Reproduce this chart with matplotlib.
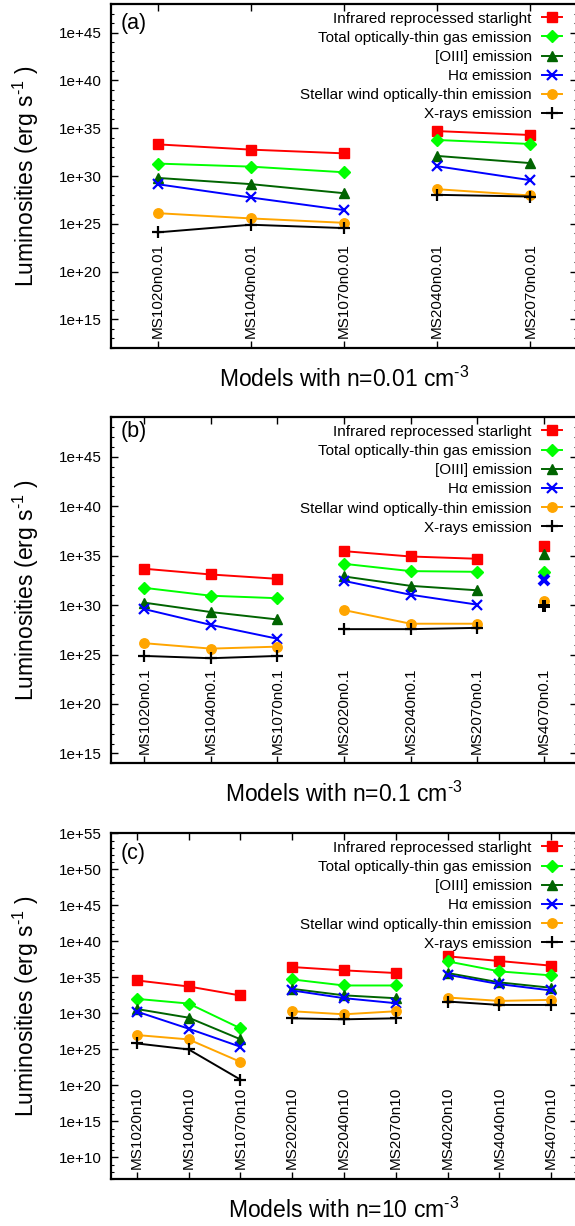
import numpy as np
import matplotlib
matplotlib.use("Agg")
import matplotlib.pyplot as plt
from matplotlib.ticker import FixedLocator, FuncFormatter, NullFormatter

plt.rcParams['font.family'] = ['Liberation Sans', 'DejaVu Sans']
plt.rcParams['mathtext.fontset'] = 'custom'
plt.rcParams['mathtext.rm'] = 'Liberation Sans'
plt.rcParams['mathtext.it'] = 'Liberation Sans:italic'
plt.rcParams['mathtext.default'] = 'regular'

# ---------------- data (log10 of luminosity in erg/s) ----------------
series_labels = ["Infrared reprocessed starlight",
                 "Total optically-thin gas emission",
                 "[OIII] emission",
                 "H\u03b1 emission",
                 "Stellar wind optically-thin emission",
                 "X-rays emission"]

models_a = ["MS1020n0.01", "MS1040n0.01", "MS1070n0.01", "MS2040n0.01", "MS2070n0.01"]
a_ir = [33.31, 32.76, 32.37, 34.70, 34.29]
a_gas = [31.30, 30.98, 30.39, 33.77, 33.35]
a_oiii = [29.80, 29.15, 28.20, 32.10, 31.35]
a_ha = [29.14, 27.75, 26.43, 31.02, 29.56]
a_wind = [26.11, 25.56, 25.10, 28.62, 27.96]
a_xray = [24.10, 24.90, 24.55, 28.03, 27.85]
groups_a = [[0, 1, 2], [3, 4]]

models_b = ["MS1020n0.1", "MS1040n0.1", "MS1070n0.1", "MS2020n0.1",
            "MS2040n0.1", "MS2070n0.1", "MS4070n0.1"]
b_ir = [33.68, 33.10, 32.66, 35.46, 34.92, 34.69, 36.03]
b_gas = [31.75, 30.95, 30.70, 34.18, 33.44, 33.37, 33.35]
b_oiii = [30.25, 29.30, 28.55, 32.90, 31.95, 31.50, 35.20]
b_ha = [29.60, 28.00, 26.60, 32.45, 31.05, 30.05, 32.50]
b_wind = [26.15, 25.60, 25.80, 29.50, 28.12, 28.12, 30.40]
b_xray = [24.86, 24.63, 24.86, 27.57, 27.57, 27.70, 29.95]
groups_b = [[0, 1, 2], [3, 4, 5], [6]]

models_c = ["MS1020n10", "MS1040n10", "MS1070n10", "MS2020n10", "MS2040n10",
            "MS2070n10", "MS4020n10", "MS4040n10", "MS4070n10"]
c_ir = [34.57, 33.73, 32.48, 36.43, 35.97, 35.60, 37.92, 37.27, 36.62]
c_gas = [32.01, 31.36, 27.92, 34.71, 33.87, 33.87, 37.22, 35.83, 35.27]
c_oiii = [30.60, 29.40, 26.40, 33.40, 32.50, 32.10, 35.60, 34.30, 33.55]
c_ha = [30.24, 27.87, 25.36, 33.18, 32.11, 31.41, 35.36, 34.06, 33.18]
c_wind = [26.99, 26.38, 23.26, 30.29, 29.87, 30.29, 32.20, 31.73, 31.87]
c_xray = [25.82, 24.99, 20.80, 29.31, 29.17, 29.31, 31.64, 31.17, 31.17]
groups_c = [[0, 1, 2], [3, 4, 5], [6, 7, 8]]

xlabels = [r"Models with n=0.01 cm$^{\text{-3}}$", r"Models with n=0.1 cm$^{\text{-3}}$",
           r"Models with n=10 cm$^{\text{-3}}$"]
ylabel = r"Luminosities (erg s$^{\text{-1}}$ )"
panel_tags = ["(a)", "(b)", "(c)"]

# ---------------- styles ----------------
colors = ['#ff0000', '#00ff00', '#006400', '#0000ff', '#ffa500', '#000000']
markers = ['s', 'D', '^', 'x', 'o', '+']
msizes = [7.2, 5.8, 7.4, 7.5, 6.8, 9.0]
mews = [1.0, 1.0, 1.0, 1.6, 1.0, 1.6]

W, H = 575, 1226
fig = plt.figure(figsize=(W / 100, H / 100), dpi=100)


def rect(top, bottom):
    return [111 / W, 1 - bottom / H, 466 / W, (bottom - top) / H]


panels = [
    dict(models=models_a, data=[a_ir, a_gas, a_oiii, a_ha, a_wind, a_xray],
         groups=groups_a, ylim=(12, 48), majors=range(15, 46, 5),
         rect=rect(4, 348), tag_y=13.3),
    dict(models=models_b, data=[b_ir, b_gas, b_oiii, b_ha, b_wind, b_xray],
         groups=groups_b, ylim=(14, 49), majors=range(15, 46, 5),
         rect=rect(417.3, 763.3), tag_y=420.7),
    dict(models=models_c, data=[c_ir, c_gas, c_oiii, c_ha, c_wind, c_xray],
         groups=groups_c, ylim=(7, 55), majors=range(10, 56, 5),
         rect=rect(833.3, 1179), tag_y=843.3),
]

for pi, p in enumerate(panels):
    ax = fig.add_axes(p['rect'])
    n = len(p['models'])
    xs = np.arange(n)
    for si, vals in enumerate(p['data']):
        yv = 10.0 ** np.asarray(vals)
        for gi, g in enumerate(p['groups']):
            lone = len(g) == 1
            ax.plot(xs[g], yv[g], color=colors[si], marker=markers[si],
                    ms=msizes[si], mew=(mews[si] * 1.8 if lone and markers[si] in 'x+' else mews[si]),
                    lw=1.4, label=series_labels[si] if gi == 0 else None,
                    clip_on=False)
    ax.set_yscale('log')
    ax.set_ylim(10.0 ** p['ylim'][0], 10.0 ** p['ylim'][1])
    ax.set_xlim(-0.5, n - 0.5)
    majors = [10.0 ** k for k in p['majors']]
    minors = [10.0 ** k for k in range(p['ylim'][0], p['ylim'][1] + 1)
              if k not in p['majors']]
    ax.yaxis.set_major_locator(FixedLocator(majors))
    ax.yaxis.set_minor_locator(FixedLocator(minors))
    ax.yaxis.set_major_formatter(FuncFormatter(lambda v, pos: "1e+%d" % round(np.log10(v))))
    ax.yaxis.set_minor_formatter(NullFormatter())
    ax.set_xticks(xs)
    ax.set_xticklabels([])
    ax.tick_params(axis='both', which='major', direction='in', length=5,
                   width=1.0, top=True, right=True, labelsize=11, pad=6.5)
    ax.tick_params(axis='y', which='minor', direction='in', length=2.5,
                   width=0.8, right=True)
    for s in ax.spines.values():
        s.set_linewidth(1.6)
    # model labels drawn inside the plot, rotated
    for xi, name in zip(xs, p['models']):
        ax.text(xi, 0.028, name, transform=ax.get_xaxis_transform(),
                rotation=90, ha='center', va='bottom', fontsize=11)
    # axis titles
    ax.text(0.5, -39 / (p['rect'][3] * H), xlabels[pi], transform=ax.transAxes,
            ha='center', va='baseline', fontsize=16.5)
    cy = p['rect'][1] + p['rect'][3] / 2
    fig.text(26 / W, cy, ylabel, rotation=90,
             ha='center', va='center', fontsize=16.5)
    fig.text(121 / W, 1 - p['tag_y'] / H, panel_tags[pi], ha='left', va='top',
             fontsize=15.5)
    hpx = p['rect'][3] * H
    leg = ax.legend(loc='upper right', bbox_to_anchor=(1 - 15.3 / 466, 1 - 7.5 / hpx),
                    frameon=False, markerfirst=False, fontsize=11,
                    handlelength=1.31, handletextpad=0.65, labelspacing=0.34,
                    borderpad=0, borderaxespad=0)

fig.savefig("out.png", dpi=100)
